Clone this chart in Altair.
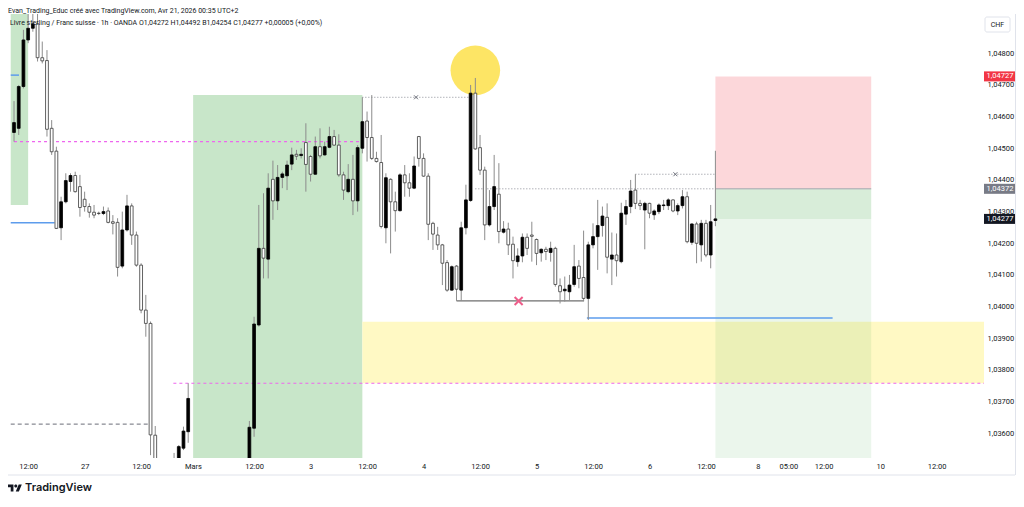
import altair as alt
import pandas as pd

# ---------------- candle data (1h GBP/CHF) ----------------
idx = [-3, -2, -1, 0, 1, 2, 3, 4, 5, 6, 7, 8, 9, 10, 11, 12, 13, 14, 15, 16, 17, 18, 19, 20,
       21, 22, 23, 24, 25, 26, 27, 31, 32, 33, 34, 47, 48, 49, 50, 51, 52, 53, 54, 55, 56, 57,
       58, 59, 60, 61, 62, 63, 64, 65, 66, 67, 68, 69, 70, 71, 72, 73, 74, 75, 76, 77, 78, 79,
       80, 81, 82, 83, 84, 85, 86, 87, 88, 89, 90, 91, 92, 93, 94, 95, 96, 97, 98, 99, 100,
       101, 102, 103, 104, 105, 106, 107, 108, 109, 110, 111, 112, 113, 114, 115, 116, 117,
       118, 119, 120, 121, 122, 123, 124, 125, 126, 127, 128, 129, 130, 131, 132, 133, 134,
       135, 136, 137, 138, 139, 140, 141, 142, 143, 144, 145, 146]
opens = [1.04550, 1.04563, 1.04695, 1.04842, 1.04879, 1.04893, 1.04786, 1.04777, 1.04563, 1.04491,
         1.04249, 1.04331, 1.04395, 1.04414, 1.04379, 1.04339, 1.04316, 1.04298, 1.04295, 1.04294,
         1.04302, 1.04268, 1.04266, 1.04128, 1.04242, 1.04318, 1.04226, 1.04131, 1.03989, 1.03947,
         1.03594, 1.03470, 1.03500, 1.03553, 1.03605, 1.03480, 1.03616, 1.03942, 1.04184, 1.04150,
         1.04402, 1.04334, 1.04408, 1.04413, 1.04450, 1.04481, 1.04477, 1.04518, 1.04474, 1.04418,
         1.04505, 1.04479, 1.04503, 1.04537, 1.04510, 1.04416, 1.04363, 1.04402, 1.04334, 1.04500,
         1.04586, 1.04534, 1.04468, 1.04455, 1.04249, 1.04402, 1.04331, 1.04303, 1.04416, 1.04391,
         1.04374, 1.04537, 1.04468, 1.04412, 1.04263, 1.04226, 1.04195, 1.04139, 1.04052, 1.04128,
         1.04052, 1.04249, 1.04335, 1.04674, 1.04502, 1.04431, 1.04258, 1.04316, 1.04355, 1.04235,
         1.04245, 1.04197, 1.04142, 1.04160, 1.04219, 1.04226, 1.04212, 1.04170, 1.04181, 1.04171,
         1.04184, 1.04066, 1.04050, 1.04047, 1.04070, 1.04128, 1.04092, 1.04026, 1.04195, 1.04221,
         1.04256, 1.04282, 1.04150, 1.04163, 1.04142, 1.04292, 1.04316, 1.04368, 1.04326, 1.04305,
         1.04326, 1.04290, 1.04300, 1.04319, 1.04319, 1.04337, 1.04302, 1.04319, 1.04347, 1.04203,
         1.04261, 1.04195, 1.04263, 1.04163, 1.04272]
highs = [1.04649, 1.04700, 1.04874, 1.04935, 1.04930, 1.04925, 1.04837, 1.04810, 1.04589, 1.04505,
         1.04347, 1.04421, 1.04421, 1.04426, 1.04416, 1.04363, 1.04326, 1.04321, 1.04300, 1.04316,
         1.04313, 1.04289, 1.04279, 1.04300, 1.04353, 1.04326, 1.04237, 1.04137, 1.04037, 1.03953,
         1.03623, 1.03538, 1.03563, 1.03621, 1.03758, 1.03639, 1.03968, 1.04321, 1.04358, 1.04421,
         1.04461, 1.04447, 1.04426, 1.04461, 1.04502, 1.04495, 1.04500, 1.04579, 1.04479, 1.04537,
         1.04563, 1.04521, 1.04568, 1.04558, 1.04544, 1.04426, 1.04450, 1.04479, 1.04510, 1.04661,
         1.04616, 1.04668, 1.04489, 1.04542, 1.04421, 1.04405, 1.04363, 1.04421, 1.04447, 1.04421,
         1.04474, 1.04539, 1.04484, 1.04421, 1.04268, 1.04252, 1.04198, 1.04147, 1.04130, 1.04131,
         1.04268, 1.04385, 1.04700, 1.04722, 1.04542, 1.04442, 1.04368, 1.04479, 1.04453, 1.04270,
         1.04265, 1.04221, 1.04184, 1.04231, 1.04231, 1.04268, 1.04215, 1.04184, 1.04189, 1.04205,
         1.04189, 1.04089, 1.04095, 1.04100, 1.04195, 1.04147, 1.04240, 1.04205, 1.04263, 1.04337,
         1.04316, 1.04326, 1.04234, 1.04231, 1.04328, 1.04337, 1.04400, 1.04418, 1.04337, 1.04331,
         1.04328, 1.04307, 1.04326, 1.04337, 1.04342, 1.04339, 1.04326, 1.04368, 1.04363, 1.04263,
         1.04268, 1.04274, 1.04274, 1.04321, 1.04492]
lows = [1.04521, 1.04542, 1.04689, 1.04832, 1.04868, 1.04774, 1.04768, 1.04537, 1.04479, 1.04245,
        1.04210, 1.04326, 1.04363, 1.04360, 1.04284, 1.04300, 1.04281, 1.04279, 1.04289, 1.04289,
        1.04263, 1.04228, 1.04095, 1.04121, 1.04237, 1.04195, 1.04126, 1.03979, 1.03905, 1.03531,
        1.03460, 1.03450, 1.03490, 1.03547, 1.03570, 1.03470, 1.03589, 1.03937, 1.04089, 1.04089,
        1.04274, 1.04305, 1.04374, 1.04368, 1.04431, 1.04463, 1.04468, 1.04363, 1.04395, 1.04416,
        1.04468, 1.04477, 1.04500, 1.04508, 1.04410, 1.04337, 1.04358, 1.04289, 1.04300, 1.04484,
        1.04458, 1.04463, 1.04455, 1.04247, 1.04200, 1.04168, 1.04237, 1.04300, 1.04347, 1.04347,
        1.04371, 1.04442, 1.04410, 1.04210, 1.04179, 1.04179, 1.04068, 1.04047, 1.04050, 1.04018,
        1.04018, 1.04228, 1.04331, 1.04495, 1.04416, 1.04210, 1.04253, 1.04305, 1.04200, 1.04231,
        1.04163, 1.04089, 1.04126, 1.04140, 1.04163, 1.04142, 1.04131, 1.04142, 1.04147, 1.04142,
        1.04063, 1.04010, 1.04016, 1.04021, 1.04063, 1.04058, 1.04018, 1.03958, 1.04184, 1.04116,
        1.04221, 1.04105, 1.04068, 1.04095, 1.04137, 1.04258, 1.04295, 1.04308, 1.04305, 1.04181,
        1.04279, 1.04274, 1.04292, 1.04305, 1.04305, 1.04298, 1.04289, 1.04310, 1.04200, 1.04195,
        1.04137, 1.04142, 1.04156, 1.04121, 1.04254]
closes = [1.04581, 1.04695, 1.04842, 1.04879, 1.04893, 1.04786, 1.04776, 1.04560, 1.04489, 1.04247,
          1.04331, 1.04398, 1.04414, 1.04363, 1.04313, 1.04316, 1.04298, 1.04289, 1.04294, 1.04300,
          1.04266, 1.04263, 1.04124, 1.04242, 1.04318, 1.04226, 1.04131, 1.03989, 1.03947, 1.03595,
          1.03480, 1.03500, 1.03558, 1.03607, 1.03710, 1.03619, 1.03945, 1.04184, 1.04153, 1.04374,
          1.04334, 1.04408, 1.04419, 1.04447, 1.04479, 1.04475, 1.04481, 1.04449, 1.04418, 1.04505,
          1.04476, 1.04505, 1.04537, 1.04510, 1.04416, 1.04368, 1.04402, 1.04334, 1.04502, 1.04584,
          1.04534, 1.04468, 1.04458, 1.04253, 1.04407, 1.04331, 1.04303, 1.04416, 1.04391, 1.04374,
          1.04444, 1.04468, 1.04412, 1.04260, 1.04229, 1.04195, 1.04137, 1.04052, 1.04126, 1.04055,
          1.04249, 1.04337, 1.04674, 1.04498, 1.04431, 1.04258, 1.04316, 1.04379, 1.04237, 1.04245,
          1.04195, 1.04145, 1.04160, 1.04219, 1.04184, 1.04222, 1.04168, 1.04181, 1.04174, 1.04184,
          1.04070, 1.04047, 1.04055, 1.04068, 1.04126, 1.04089, 1.04026, 1.04195, 1.04221, 1.04256,
          1.04286, 1.04156, 1.04163, 1.04145, 1.04295, 1.04316, 1.04365, 1.04326, 1.04319, 1.04326,
          1.04295, 1.04302, 1.04321, 1.04321, 1.04337, 1.04302, 1.04319, 1.04347, 1.04205, 1.04261,
          1.04200, 1.04263, 1.04163, 1.04268, 1.04277]

# ---------------- drawings ----------------
zone_x1 = [-3.7, 35.05, 71.0, 146.0, 146.0, 146.0]
zone_x2 = [0.0, 71.0, 206.0, 179.1, 179.1, 179.1]
zone_lo = [1.04321, 1.03400, 1.03758, 1.04372, 1.04277, 1.03400]
zone_hi = [1.04980, 1.04668, 1.03952, 1.04727, 1.04372, 1.04277]
zone_col = ["#c8e6c9", "#c8e6c9", "#fff9c4", "#f23645", "#4caf50", "#4caf50"]
zone_op = [1.0, 1.0, 1.0, 0.2, 0.22, 0.11]

circle_k = [95.0]
circle_p = [1.04746]

pink_x1 = [-3.0, 30.85]
pink_x2 = [70.8, 206.0]
pink_y = [1.04521, 1.03758]

gdash_x1 = [-3.7]
gdash_x2 = [25.6]
gdash_y = [1.03629]

blue_x1 = [-3.7, -3.7, 118.7]
blue_x2 = [-1.95, 5.6, 170.9]
blue_y = [1.04731, 1.04265, 1.03964]

black_x1 = [91.0]
black_x2 = [118.1]
black_y = [1.04018]

dot_x1 = [71.0, 129.0, 95.0]
dot_x2 = [93.9, 146.0, 146.0]
dot_y = [1.04661, 1.04418, 1.04372]

sep_x1 = [146.0]
sep_x2 = [179.1]
sep_y = [1.04372]

gx_k = [82.4, 137.5]
gx_p = [1.04661, 1.04418]
px_k = [104.2]
px_p = [1.04018]

tag_p = [1.04727, 1.04372, 1.04277]
tag_col = ["#f23645", "#787b86", "#131722"]

xt_pos = [0, 12, 24, 35, 48, 60, 72, 84, 96, 108, 120, 132, 144, 155, 161.5, 169, 181, 193]
xt_lab = ["12:00", "27", "12:00", "Mars", "12:00", "3", "12:00", "4", "12:00", "5", "12:00",
          "6", "12:00", "8", "05:00", "12:00", "10", "12:00"]
yt = [1.036, 1.037, 1.038, 1.039, 1.040, 1.041, 1.042, 1.043, 1.044, 1.045, 1.046, 1.047, 1.048]

header_txt = "Evan_Trading_Educ créé avec TradingView.com, Avr 21, 2026 00:35 UTC+2"
title_txt = ("Livre sterling / Franc suisse · 1h · OANDA  O1,04272  H1,04492  "
             "B1,04254  C1,04277  +0,00005 (+0,00%)")

# ---------------- build ----------------
W, H = 976, 444
XS = alt.Scale(domain=[-3.217, 202.0], nice=False, zero=False)
YS = alt.Scale(domain=[1.03522, 1.04924], nice=False, zero=False)
FONT = "Roboto"
TXT = "#131722"

label_expr_x = ("[" + ",".join("'%s'" % s for s in xt_lab) + "][indexof(["
                + ",".join(str(v) for v in xt_pos) + "], datum.value)]")
AX = alt.Axis(values=xt_pos, labelExpr=label_expr_x, labelFontSize=7.5, labelColor=TXT,
              labelFont=FONT, labelPadding=4, ticks=False, domain=False, grid=False,
              labelOverlap=False, labelFlush=False, title=None)
AY = alt.Axis(orient="right", values=yt, labelExpr="replace(format(datum.value, '.5f'), '.', ',')",
              labelFontSize=7.5, labelColor=TXT, labelFont=FONT, labelAlign="left",
              labelPadding=3, ticks=False, domain=False, grid=False, labelOverlap=False, title=None)


def XE(f):
    return alt.X(f, scale=XS, axis=AX, title=None)


def YE(f):
    return alt.Y(f, scale=YS, axis=AY, title=None)


candles = pd.DataFrame({"k": idx, "o": opens, "h": highs, "l": lows, "c": closes})
zones = pd.DataFrame({"x1": zone_x1, "x2": zone_x2, "lo": zone_lo, "hi": zone_hi,
                      "col": zone_col, "op": zone_op})


def segs(x1, x2, y):
    return pd.DataFrame({"x1": x1, "x2": x2, "y": y})


def seg_layer(df, **mk):
    return alt.Chart(df).mark_rule(clip=True, **mk).encode(x=XE("x1:Q"), x2="x2:Q", y=YE("y:Q"))


zone_layer = alt.Chart(zones).mark_rect(clip=True).encode(
    x=XE("x1:Q"), x2="x2:Q", y=YE("lo:Q"), y2="hi:Q",
    color=alt.Color("col:N", scale=None), opacity=alt.Opacity("op:Q", scale=None),
)

circle_layer = alt.Chart(pd.DataFrame({"k": circle_k, "p": circle_p})).mark_point(
    shape="circle", filled=True, size=2460, opacity=1, color="#fde565", strokeWidth=0
).encode(x=XE("k:Q"), y=YE("p:Q"))

pink_layer = seg_layer(segs(pink_x1, pink_x2, pink_y), color="#ee66ee", strokeWidth=1.1, strokeDash=[3, 3])
gdash_layer = seg_layer(segs(gdash_x1, gdash_x2, gdash_y), color="#6a6d78", strokeWidth=1, strokeDash=[4, 3])
blue_layer = seg_layer(segs(blue_x1, blue_x2, blue_y), color="#5d9cec", strokeWidth=1.5)
black_layer = seg_layer(segs(black_x1, black_x2, black_y), color="#4a4a4a", strokeWidth=1)
dot_layer = seg_layer(segs(dot_x1, dot_x2, dot_y), color="#8a8d96", strokeWidth=1, strokeDash=[1, 2])
sep_layer = seg_layer(segs(sep_x1, sep_x2, sep_y), color="#a3a6af", strokeWidth=1)

wick_layer = alt.Chart(candles).mark_rule(clip=True, color="#8c8c8c", strokeWidth=1).encode(
    x=XE("k:Q"), y=YE("l:Q"), y2="h:Q")

body_layer = alt.Chart(candles).mark_bar(clip=True, width=2.8, strokeWidth=0.8).encode(
    x=XE("k:Q"), y=YE("o:Q"), y2="c:Q",
    fill=alt.condition("datum.c >= datum.o", alt.value("#000000"), alt.value("#ffffff")),
    stroke=alt.condition("datum.c >= datum.o", alt.value("#000000"), alt.value("#3a3a3a")),
)

gx_layer = alt.Chart(pd.DataFrame({"k": gx_k, "p": gx_p})).mark_point(
    shape="M-1,-1L1,1M-1,1L1,-1", filled=False, size=16, strokeWidth=1, color="#6f727c", opacity=1
).encode(x=XE("k:Q"), y=YE("p:Q"))

px_layer = alt.Chart(pd.DataFrame({"k": px_k, "p": px_p})).mark_point(
    shape="M-1,-1L1,1M-1,1L1,-1", filled=False, size=64, strokeWidth=2, color="#ee5d8a", opacity=1
).encode(x=XE("k:Q"), y=YE("p:Q"))

tags = pd.DataFrame({"p": tag_p, "col": tag_col})
tag_box = alt.Chart(tags).mark_point(
    shape="M-1.6,-0.5H1.6V0.5H-1.6Z", filled=True, size=400, opacity=1, strokeWidth=0
).encode(x=alt.value(992), y=YE("p:Q"), color=alt.Color("col:N", scale=None))
tag_txt = alt.Chart(tags).transform_calculate(
    t="replace(format(datum.p, '.5f'), '.', ',')"
).mark_text(font=FONT, fontSize=7.5, color="#ffffff", align="center", baseline="middle").encode(
    x=alt.value(992), y=YE("p:Q"), text="t:N")

one = alt.Data(values=[{"a": 1}])
chf_box = alt.Chart(one).mark_rect(fill="#ffffff", stroke="#e0e3eb", strokeWidth=1, cornerRadius=2).encode(
    x=alt.value(977), x2=alt.value(1002), y=alt.value(3), y2=alt.value(18))
chf_txt = alt.Chart(one).mark_text(font=FONT, fontSize=7, color=TXT, align="center", baseline="middle",
                                   text="CHF").encode(x=alt.value(989.5), y=alt.value(10.5))

frame_bottom = alt.Chart(one).mark_rule(color="#e0e3eb", strokeWidth=1).encode(
    x=alt.value(-10), x2=alt.value(1007), y=alt.value(461))
frame_right = alt.Chart(one).mark_rule(color="#e0e3eb", strokeWidth=1).encode(
    x=alt.value(1007.5), y=alt.value(0), y2=alt.value(461))

header = alt.Chart(one).mark_text(font=FONT, fontSize=7, color=TXT, align="left", baseline="middle",
                                  text=header_txt).encode(x=alt.value(0), y=alt.value(-3))
title = alt.Chart(one).mark_text(font=FONT, fontSize=7, color=TXT, align="left", baseline="middle",
                                 text=title_txt).encode(x=alt.value(2), y=alt.value(9))

logo_path = ("M-0.222,0.5L-0.611,0.5L-0.611,-0.111L-1,-0.111L-1,-0.5L-0.222,-0.5Z"
             "M-0.111,-0.278A0.222,0.222 0 1,0 0.333,-0.278A0.222,0.222 0 1,0 -0.111,-0.278Z"
             "M0.556,0.5L0.111,0.5L0.528,-0.5L0.972,-0.5Z")
logo = alt.Chart(one).mark_point(shape=logo_path, filled=True, size=196, opacity=1, strokeWidth=0,
                                 color=TXT).encode(x=alt.value(7), y=alt.value(474))
brand = alt.Chart(one).mark_text(font="Inter", fontSize=11, fontWeight=600, color=TXT, align="left",
                                 baseline="middle", text="TradingView").encode(x=alt.value(17), y=alt.value(474))

chart = alt.layer(
    zone_layer, circle_layer, pink_layer, gdash_layer, blue_layer, black_layer, dot_layer, sep_layer,
    wick_layer, body_layer, gx_layer, px_layer, tag_box, tag_txt, chf_box, chf_txt,
    frame_bottom, frame_right, header, title, logo, brand,
).properties(
    width=W, height=H,
    padding={"left": 0, "top": 6, "right": 32, "bottom": 37},
    autosize=alt.AutoSizeParams(type="none"),
    background="#ffffff",
).configure(font=FONT).configure_view(strokeWidth=0)

chart.save("out.html", embed_options={"renderer": "svg", "actions": False})
